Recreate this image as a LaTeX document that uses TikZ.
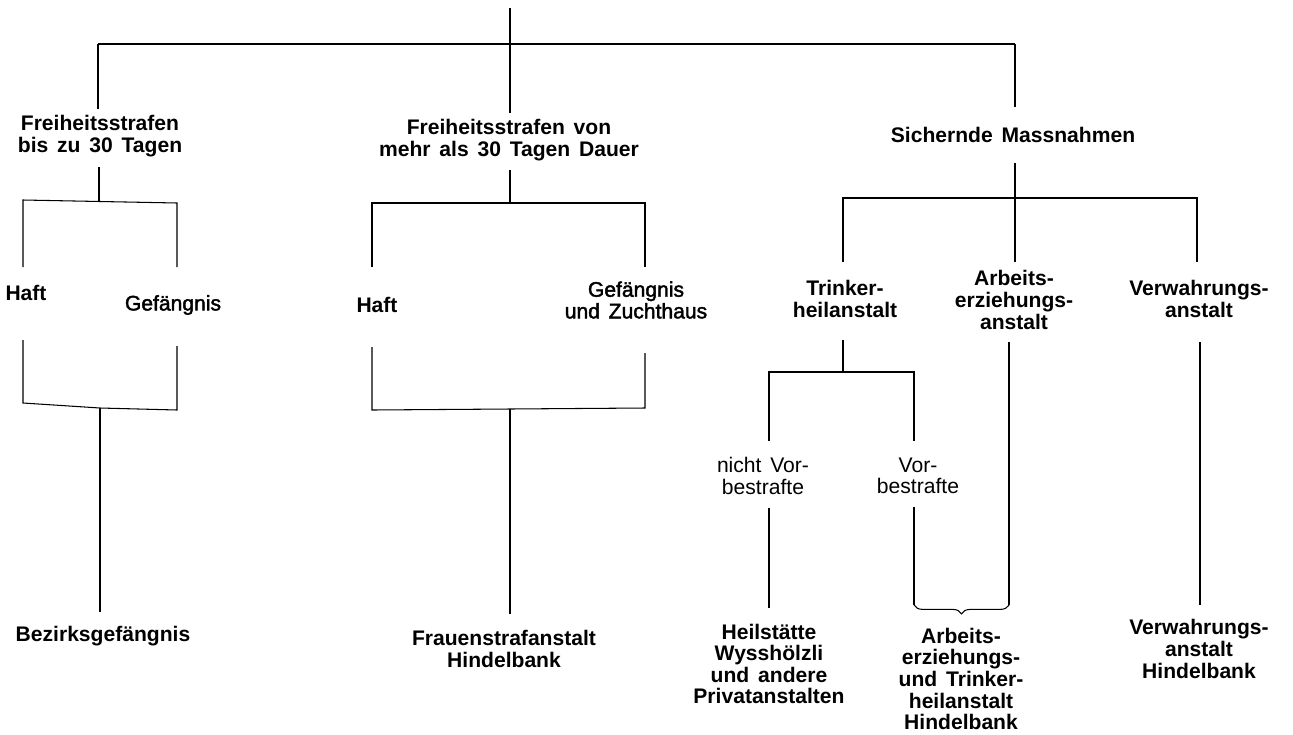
\documentclass[tikz,border=0pt]{standalone}
\usepackage{fontspec}
\setmainfont[WordSpace=1.5]{Liberation Sans}
\newfontfamily\mittelfont[FakeBold=2, WordSpace=1.5]{Liberation Sans}
\usetikzlibrary{decorations.pathreplacing}
\tikzstyle{fett} = [font=\bfseries\fontsize{12}{12.3}\selectfont, align=center, inner sep=0pt]
\tikzstyle{mittel} = [font=\mittelfont\fontsize{12}{12.3}\selectfont, align=center, inner sep=0pt]
\tikzstyle{leicht} = [font=\fontsize{12}{12.3}\selectfont, align=center, inner sep=0pt]
\tikzstyle{klammer} = [decorate, decoration={brace, mirror, amplitude=5pt}]

\begin{document}
\begin{tikzpicture}[x=0.02cm, y=-0.02cm, line width=0.6pt]
  \useasboundingbox (0,0) rectangle (1293,734);

  % Stamm
  \coordinate (wurzel) at (510,8);
  \coordinate (kopf) at (510,44);
  \coordinate (kopfL) at (98,44);
  \coordinate (kopfR) at (1015,44);
  \draw (wurzel) -- (kopf);
  \draw (kopfL) -- (kopfR);

  % Freiheitsstrafen bis zu 30 Tagen
  \node[fett] (kurz) at (100,136) {Freiheitsstrafen\\bis zu 30 Tagen};
  \coordinate (kurzO) at (98,109);
  \coordinate (kurzU) at (99,167);
  \coordinate (kurzG) at (99,201.5);
  \draw (kopfL) -- (kurzO);
  \draw (kurzU) -- (kurzG);
  \coordinate (kGl1) at (23,200);
  \coordinate (kGr1) at (177,203);
  \coordinate (kGl2) at (23,267);
  \coordinate (kGr2) at (177,267);
  \draw (kGl2) -- (kGl1) -- (kGr1) -- (kGr2);
  \node[fett] (kHaft) at (26,293) {Haft};
  \node[mittel] (kGef) at (173,305) {Gefängnis};
  \coordinate (kGl3) at (23,340);
  \coordinate (kGr3) at (177,346);
  \coordinate (kGl4) at (23,403);
  \coordinate (kGm) at (100,408);
  \coordinate (kGr4) at (177,410);
  \draw (kGl3) -- (kGl4) -- (kGm) -- (kGr4) -- (kGr3);
  \coordinate (bezO) at (100,612);
  \draw (kGm) -- (bezO);
  \node[fett] (bez) at (103,636) {Bezirksgefängnis};

  % Freiheitsstrafen von mehr als 30 Tagen
  \node[fett] (lang) at (509,140) {Freiheitsstrafen von\\mehr als 30 Tagen Dauer};
  \coordinate (langO) at (510,113);
  \coordinate (langU) at (510,170);
  \coordinate (langG) at (510,203);
  \draw (kopf) -- (langO);
  \draw (langU) -- (langG);
  \coordinate (lGl1) at (372,203);
  \coordinate (lGr1) at (645,203);
  \coordinate (lGl2) at (372,267);
  \coordinate (lGr2) at (645,267);
  \draw (lGl2) -- (lGl1) -- (lGr1) -- (lGr2);
  \node[fett] (lHaft) at (377,305) {Haft};
  \node[mittel] (lGef) at (636,300) {Gefängnis\\und Zuchthaus};
  \coordinate (lGl3) at (372,347);
  \coordinate (lGr3) at (645,353);
  \coordinate (lGl4) at (372,410);
  \coordinate (lGm) at (510,409);
  \coordinate (lGr4) at (645,408);
  \draw (lGl3) -- (lGl4) -- (lGm) -- (lGr4) -- (lGr3);
  \coordinate (frauO) at (510,614);
  \draw (lGm) -- (frauO);
  \node[fett] (frau) at (504,649) {Frauenstrafanstalt\\Hindelbank};

  % Sichernde Massnahmen
  \node[fett] (sich) at (1013,135) {Sichernde Massnahmen};
  \coordinate (sichO) at (1015,107);
  \coordinate (sichU) at (1015,163);
  \coordinate (sichG) at (1015,198);
  \draw (kopfR) -- (sichO);
  \draw (sichU) -- (sichG);
  \coordinate (sGl1) at (843,198);
  \coordinate (sGr1) at (1197,198);
  \coordinate (sGl2) at (843,262);
  \coordinate (sGm2) at (1015,262);
  \coordinate (sGr2) at (1197,262);
  \draw (sGl2) -- (sGl1) -- (sGr1) -- (sGr2);
  \draw (sichG) -- (sGm2);
  \node[fett] (trink) at (845,299) {Trinker-\\heilanstalt};
  \node[fett] (arb) at (1014,300) {Arbeits-\\erziehungs-\\anstalt};
  \node[fett] (verw) at (1199,299) {Verwahrungs-\\anstalt};

  % Trinkerheilanstalt
  \coordinate (trinkU) at (843,340);
  \coordinate (trinkG) at (843,372);
  \coordinate (tGl1) at (769,372);
  \coordinate (tGr1) at (914,372);
  \coordinate (tGl2) at (769,441);
  \coordinate (tGr2) at (914,441);
  \draw (trinkU) -- (trinkG);
  \draw (tGl2) -- (tGl1) -- (tGr1) -- (tGr2);
  \node[leicht] (nicht) at (763,476) {nicht Vor-\\bestrafte};
  \node[leicht] (vor) at (918,476) {Vor-\\bestrafte};
  \coordinate (nichtU) at (769,508);
  \coordinate (heilO) at (769,608);
  \draw (nichtU) -- (heilO);
  \coordinate (vorU) at (914,507);
  \coordinate (kL) at (914,605);
  \draw (vorU) -- (kL);

  % Arbeitserziehung und Verwahrung
  \coordinate (arbU) at (1009,342);
  \coordinate (kR) at (1009,605);
  \draw (arbU) -- (kR);
  \draw[klammer] (kL) -- (kR);
  \coordinate (verwU) at (1200,342);
  \coordinate (verwO) at (1200,605);
  \draw (verwU) -- (verwO);

  % Anstalten
  \node[fett] (heil) at (769,664) {Heilstätte\\Wysshölzli\\und andere\\Privatanstalten};
  \node[fett] (arbH) at (961,679) {Arbeits-\\erziehungs-\\und Trinker-\\heilanstalt\\Hindelbank};
  \node[fett] (verwH) at (1199,649) {Verwahrungs-\\anstalt\\Hindelbank};
\end{tikzpicture}
\end{document}
